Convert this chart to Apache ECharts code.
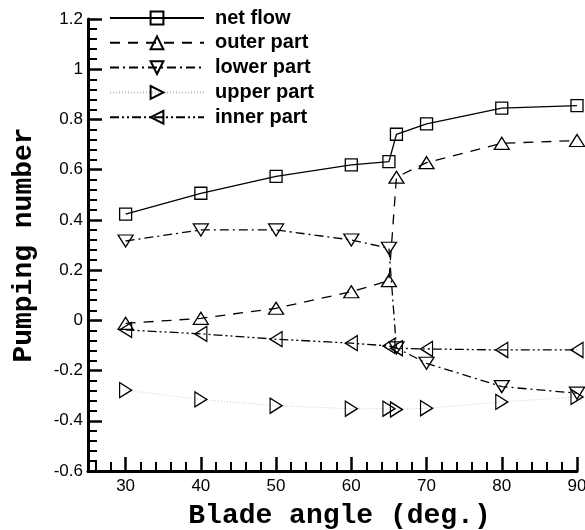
<!DOCTYPE html>
<html>
<head>
<meta charset="utf-8">
<script src="https://cdn.jsdelivr.net/npm/echarts@6/dist/echarts.min.js"></script>
<style>
  html, body { margin: 0; padding: 0; background: #fff; }
  #chart { width: 585px; height: 530px; }
</style>
</head>
<body>
<div id="chart"></div>
<script>
// Blade angles (deg.) at which the pumping number was evaluated
const bladeAngle = [30, 40, 50, 60, 65, 66, 70, 80, 90];

// Pumping number of each flow component
const netFlow   = [0.423, 0.506, 0.573, 0.619, 0.632, 0.741, 0.782, 0.845, 0.855];
const outerPart = [-0.012, 0.008, 0.048, 0.114, 0.158, 0.570, 0.628, 0.705, 0.716];
const lowerPart = [0.316, 0.360, 0.360, 0.320, 0.287, -0.110, -0.171, -0.264, -0.290];
const upperPart = [-0.278, -0.315, -0.340, -0.352, -0.352, -0.355, -0.350, -0.325, -0.305];
const innerPart = [-0.038, -0.054, -0.075, -0.091, -0.102, -0.111, -0.114, -0.118, -0.118];

const seriesNames = ['net flow', 'outer part', 'lower part', 'upper part', 'inner part'];
const xTickValues = [30, 40, 50, 60, 70, 80, 90];
const xMinorTickValues = [26, 28, 32, 34, 36, 38, 42, 44, 46, 48, 52, 54, 56, 58,
                          62, 64, 66, 68, 72, 74, 76, 78, 82, 84, 86, 88];

const pairs = ys => bladeAngle.map((x, i) => [x, ys[i]]);

const hollow = { color: 'rgba(255,255,255,0)', borderColor: '#000', borderWidth: 1.3 };

function lineSeries(name, ys, symbol, size, dash, extraLine) {
  return {
    name: name,
    type: 'line',
    data: pairs(ys),
    symbol: symbol,
    symbolSize: size,
    showAllSymbol: true,
    itemStyle: hollow,
    lineStyle: Object.assign({ color: '#000', width: 1.3, type: dash }, extraLine || {}),
    emphasis: { disabled: true },
    animation: false,
    z: 3
  };
}

const axisFont = 'Liberation Sans, Arial, sans-serif';
const titleFont = 'Liberation Mono, Courier New, monospace';

const chart = echarts.init(document.getElementById('chart'), null, { renderer: 'canvas' });

chart.setOption({
  backgroundColor: '#fff',
  animation: false,
  grid: { left: 88, right: 8, top: 19, bottom: 59, containLabel: false, outerBoundsMode: 'none' },
  legend: {
    orient: 'vertical',
    left: 104,
    top: 3,
    itemWidth: 94,
    itemHeight: 16,
    itemGap: 4.8,
    data: seriesNames,
    textStyle: {
      color: '#000',
      fontFamily: axisFont,
      fontWeight: 'bold',
      fontSize: 20,
      padding: [0, 0, 0, 6]
    }
  },
  xAxis: [{
    type: 'value',
    min: 25,
    max: 90,
    interval: 5,
    position: 'bottom',
    name: 'Blade angle (deg.)',
    nameLocation: 'middle',
    nameGap: 31,
    nameTextStyle: {
      color: '#000',
      fontFamily: titleFont,
      fontWeight: 'bold',
      fontSize: 28,
      padding: [0, 0, 0, 14]
    },
    axisLine: { onZero: false, lineStyle: { color: '#000', width: 3 } },
    axisTick: { inside: true, length: 14, lineStyle: { color: '#000', width: 2.5 }, customValues: xTickValues },
    axisLabel: { customValues: xTickValues, color: '#000', fontFamily: axisFont, fontSize: 17, margin: 7 },
    splitLine: { show: false }
  }, {
    // minor ticks every 2 degrees
    type: 'value',
    min: 25,
    max: 90,
    interval: 5,
    position: 'bottom',
    offset: 0,
    axisLine: { show: false, onZero: false },
    axisTick: { inside: true, length: 9, lineStyle: { color: '#000', width: 2 }, customValues: xMinorTickValues },
    axisLabel: { show: false },
    splitLine: { show: false }
  }],
  yAxis: {
    type: 'value',
    min: -0.6,
    max: 1.2,
    interval: 0.2,
    name: 'Pumping number',
    nameLocation: 'middle',
    nameGap: 50,
    nameTextStyle: {
      color: '#000',
      fontFamily: titleFont,
      fontWeight: 'bold',
      fontSize: 28
    },
    axisLine: { show: true, onZero: false, lineStyle: { color: '#000', width: 3 } },
    axisTick: { show: true, inside: true, length: 14, lineStyle: { color: '#000', width: 2.5 } },
    minorTick: { show: true, splitNumber: 5, length: 9, lineStyle: { color: '#000', width: 2 } },
    axisLabel: {
      color: '#000',
      fontFamily: axisFont,
      fontSize: 17,
      margin: 5,
      formatter: v => String(Math.round(v * 10) / 10)
    },
    splitLine: { show: false }
  },
  series: [
    lineSeries('net flow', netFlow, 'rect', 12, 'solid'),
    lineSeries('outer part', outerPart, 'path://M5,0L10,9L0,9Z', [15, 12], [10, 8]),
    lineSeries('lower part', lowerPart, 'path://M0,0L10,0L5,9Z', [15, 12], [9, 4, 2, 4]),
    lineSeries('upper part', upperPart, 'path://M0,0L9,5L0,10Z', [12, 15], [1, 2], { color: '#bbb', width: 0.8 }),
    lineSeries('inner part', innerPart, 'path://M9,0L0,5L9,10Z', [12, 15], [9, 3, 2, 3, 2, 3])
  ]
});
</script>
</body>
</html>
